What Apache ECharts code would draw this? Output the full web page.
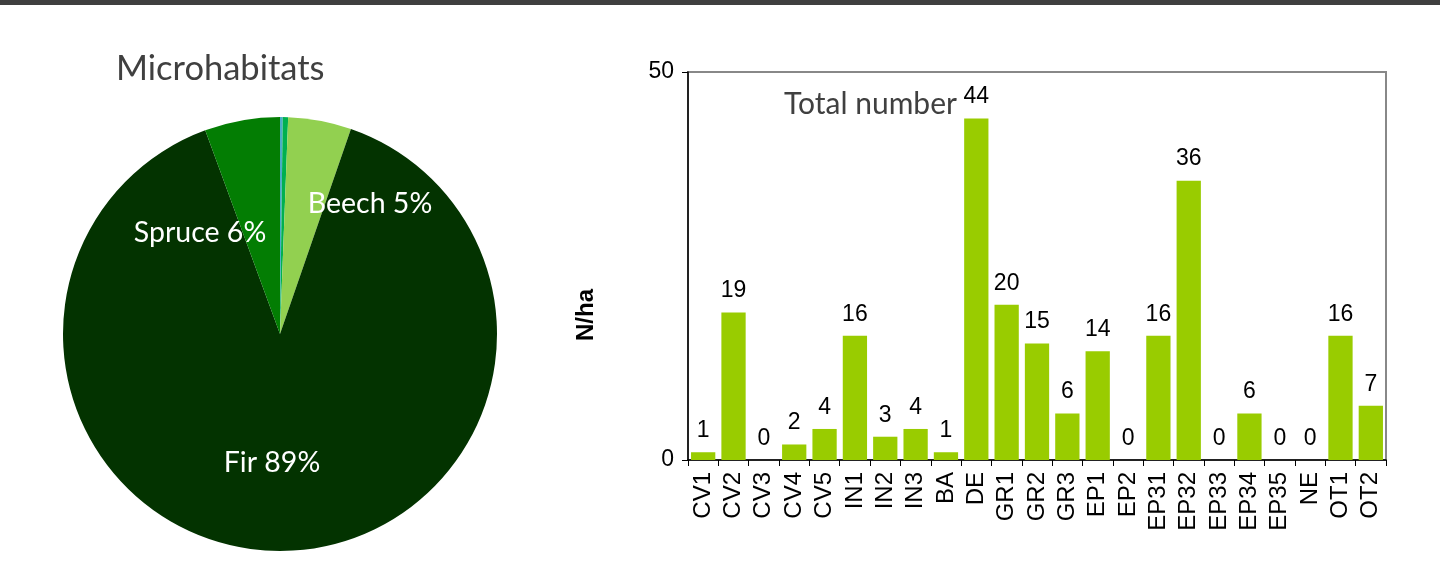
<!DOCTYPE html>
<html><head><meta charset="utf-8">
<script src="https://cdn.jsdelivr.net/npm/echarts@6/dist/echarts.min.js"></script>
<style>html,body{margin:0;padding:0;background:#fff;}#c{width:1440px;height:577px;}</style>
</head><body><div id="c"></div>
<script>
const pieNames = ['Other A', 'Other B', 'Beech', 'Fir', 'Spruce'];
const pieValues = [0.2, 0.4, 4.7, 89.1, 5.6];
const pieColors = ['#4bacc6', '#00b050', '#92d050', '#033300', '#037d03'];
const pieLabelShown = [false, false, true, true, true];

const categories = ['CV1','CV2','CV3','CV4','CV5','IN1','IN2','IN3','BA','DE','GR1','GR2','GR3','EP1','EP2','EP31','EP32','EP33','EP34','EP35','NE','OT1','OT2'];
const totals = [1,19,0,2,4,16,3,4,1,44,20,15,6,14,0,16,36,0,6,0,0,16,7];

const labelPos = {2: [370, 204], 3: [272, 463], 4: [200, 233]};

const chart = echarts.init(document.getElementById('c'));
chart.setOption({
  animation: false,
  backgroundColor: '#fff',
  title: [
    {text: 'Microhabitats', left: 111, top: 46, textStyle: {fontFamily: 'Lato', fontSize: 34.5, fontWeight: 'normal', color: '#404040'}},
    {text: 'Total number', left: 779, top: 84, textStyle: {fontFamily: 'Lato', fontSize: 30, fontWeight: 'normal', color: '#404040'}}
  ],
  graphic: [{type: 'rect', shape: {x: 0, y: 0, width: 1440, height: 5}, style: {fill: '#3f3f3f'}}],
  grid: {left: 688, right: 54, top: 72, bottom: 117, show: true, borderColor: '#888', borderWidth: 2, backgroundColor: '#fff'},
  xAxis: {
    type: 'category', data: categories,
    axisLine: {lineStyle: {color: '#000', width: 1.5}},
    axisTick: {show: true, alignWithLabel: false, length: 6, lineStyle: {color: '#000'}},
    axisLabel: {rotate: 90, fontFamily: 'Liberation Sans', fontSize: 24, color: '#000', margin: 12, interval: 0}
  },
  yAxis: {
    type: 'value', min: 0, max: 50, interval: 50,
    name: 'N/ha', nameLocation: 'middle', nameGap: 90, nameRotate: 90,
    nameTextStyle: {fontFamily: 'Liberation Sans', fontSize: 24, fontWeight: 'bold', color: '#000', padding: [0, 98, 0, 0]},
    axisLine: {show: true, lineStyle: {color: '#000', width: 1.5}},
    axisTick: {show: true, inside: false, length: 6, lineStyle: {color: '#000'}},
    splitLine: {show: false},
    axisLabel: {fontFamily: 'Liberation Sans', fontSize: 23, color: '#000', margin: 14}
  },
  series: [
    {
      type: 'pie', center: [280, 334], radius: 217, startAngle: 90, clockwise: true,
      data: pieNames.map((n, i) => ({name: n, value: pieValues[i], itemStyle: {color: pieColors[i]}, label: {show: pieLabelShown[i]}})),
      percentPrecision: 0,
      label: {position: 'inside', formatter: '{b} {d}%', color: '#fff', fontFamily: 'Lato', fontSize: 28.5},
      labelLine: {show: false},
      labelLayout: function (p) {
        const pos = labelPos[p.dataIndex];
        if (!pos) return {};
        return {x: pos[0], y: pos[1], align: 'center', verticalAlign: 'middle'};
      },
      emphasis: {disabled: true}
    },
    {
      type: 'bar', data: totals, barWidth: '80%',
      itemStyle: {color: '#99cc00'},
      label: {show: true, position: 'top', distance: 10, fontFamily: 'Liberation Sans', fontSize: 23, color: '#000'}
    }
  ]
});
</script></body></html>
